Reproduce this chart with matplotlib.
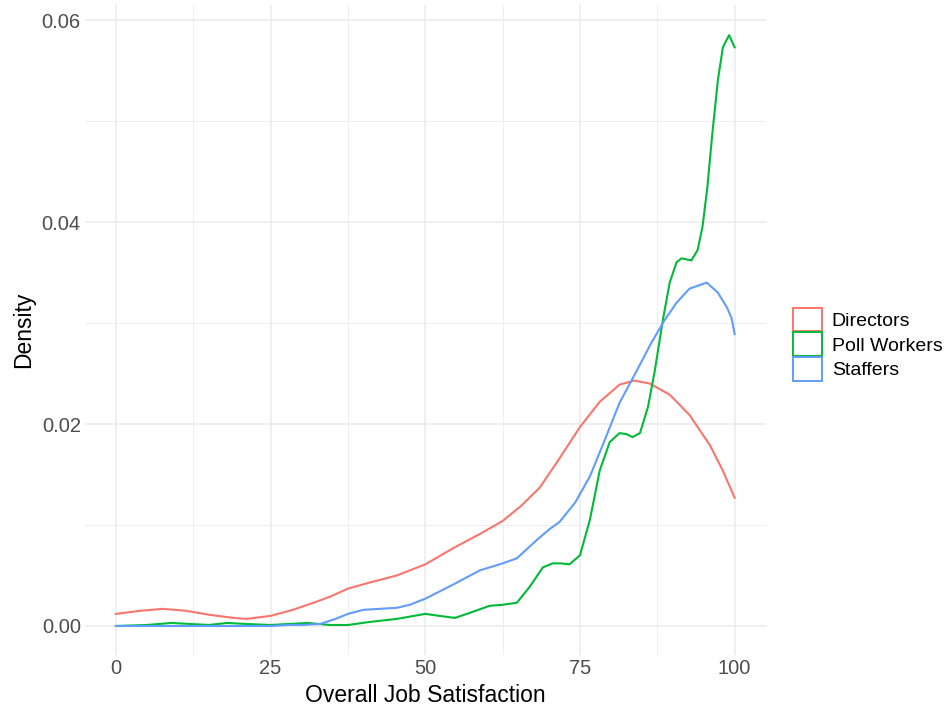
from matplotlib import pyplot as plt
from matplotlib.patches import Patch

plt.rcParams["font.family"] = ["Liberation Sans", "DejaVu Sans"]

# values (x = satisfaction, y = density)
directors_x = [0, 3.9, 7.6, 11.4, 15.2, 19, 21.1, 25, 28.6, 32.4, 34.6, 37.5, 41, 45.4, 50, 54.5, 58.8, 62.5,
               65.5, 68.5, 71.7, 75, 78.2, 81.4, 83.8, 86.3, 89.5, 92.7, 96, 98, 100]
directors_y = [0.0012, 0.0015, 0.0017, 0.0015, 0.0011, 0.0008, 0.0007, 0.0010, 0.0016, 0.0024, 0.0029, 0.0037,
               0.0043, 0.0050, 0.0061, 0.0077, 0.0091, 0.0104, 0.0119, 0.0137, 0.0166, 0.0197, 0.0222, 0.0239,
               0.0243, 0.0240, 0.0229, 0.0209, 0.0179, 0.0155, 0.0127]

poll_x = [0, 5, 9, 12, 15, 18, 21, 25, 28, 31, 34.6, 37.5, 41, 45.4, 50, 52.3, 54.8, 57.2, 60.4, 62.5, 64.8,
          66.9, 69, 70.6, 72, 73.3, 75, 76.6, 78.2, 79.8, 81.4, 82.5, 83.5, 84.7, 86, 87.1, 88.4, 89.5, 90.6,
          91.4, 92.2, 93, 94, 94.8, 95.6, 96.4, 97.3, 98.1, 99.1, 100]
poll_y = [0.0000, 0.0001, 0.0003, 0.0002, 0.0001, 0.0003, 0.0002, 0.0001, 0.0002, 0.0003, 0.0001, 0.0001,
          0.0004, 0.0007, 0.0012, 0.0010, 0.0008, 0.0013, 0.0020, 0.0021, 0.0023, 0.0039, 0.0058, 0.0062,
          0.0062, 0.0061, 0.0070, 0.0105, 0.0154, 0.0182, 0.0191, 0.0190, 0.0187, 0.0191, 0.0217, 0.0253,
          0.0303, 0.0340, 0.0360, 0.0364, 0.0363, 0.0362, 0.0372, 0.0395, 0.0435, 0.0488, 0.0541, 0.0573,
          0.0585, 0.0573]

staff_x = [0, 10, 20, 25, 28, 30, 33, 35.5, 37.5, 40, 45.4, 47.5, 50, 54.5, 58.8, 62.5, 64.8, 68, 70.1, 71.7,
           74.2, 76.6, 79, 81.4, 84.2, 86.5, 88.7, 90.6, 92.7, 95.5, 97.3, 98.7, 99.5, 100]
staff_y = [0.0000, 0.0000, 0.0000, 0.0000, 0.0001, 0.0001, 0.0002, 0.0007, 0.0012, 0.0016, 0.0018, 0.0021,
           0.0027, 0.0041, 0.0055, 0.0062, 0.0067, 0.0085, 0.0096, 0.0103, 0.0122, 0.0148, 0.0184, 0.0221,
           0.0253, 0.0280, 0.0303, 0.0320, 0.0334, 0.0340, 0.0330, 0.0316, 0.0305, 0.0289]

groups = ["Directors", "Poll Workers", "Staffers"]
colors = ["#F8766D", "#00BA38", "#619CFF"]

fig = plt.figure(figsize=(9.44, 7.11), dpi=100)
ax = fig.add_axes([0.090, 0.0788, 0.721, 0.9142])

for xs, ys, c in zip([directors_x, poll_x, staff_x], [directors_y, poll_y, staff_y], colors):
    ax.plot(xs, ys, color=c, lw=1.5, solid_joinstyle="round")

ax.set_xlim(-5, 105)
ax.set_ylim(-0.00287, 0.06149)
ax.set_xticks([0, 25, 50, 75, 100])
ax.set_xticks([12.5, 37.5, 62.5, 87.5], minor=True)
ax.set_yticks([0, 0.02, 0.04, 0.06])
ax.set_yticks([0.01, 0.03, 0.05], minor=True)
ax.set_yticklabels(["0.00", "0.02", "0.04", "0.06"])
ax.grid(which="major", color="#EBEBEB", lw=1.1)
ax.grid(which="minor", color="#EBEBEB", lw=0.55)
ax.set_axisbelow(True)
for s in ax.spines.values():
    s.set_visible(False)
ax.tick_params(which="both", length=0, labelsize=14.5, labelcolor="#4D4D4D", pad=3)

ax.set_xlabel("Overall Job Satisfaction", fontsize=16.5, labelpad=4)
ax.set_ylabel("Density", fontsize=16.5, labelpad=5)

handles = [Patch(facecolor="white", edgecolor=c, lw=1.4) for c in colors]
ax.legend(handles, groups, loc="center left", bbox_to_anchor=(1.04, 0.478), frameon=False,
          fontsize=14, handlelength=1.5, handleheight=1.5, handletextpad=0.5, labelspacing=0.05,
          borderaxespad=0, borderpad=0)

plt.savefig("out.png", dpi=100)
